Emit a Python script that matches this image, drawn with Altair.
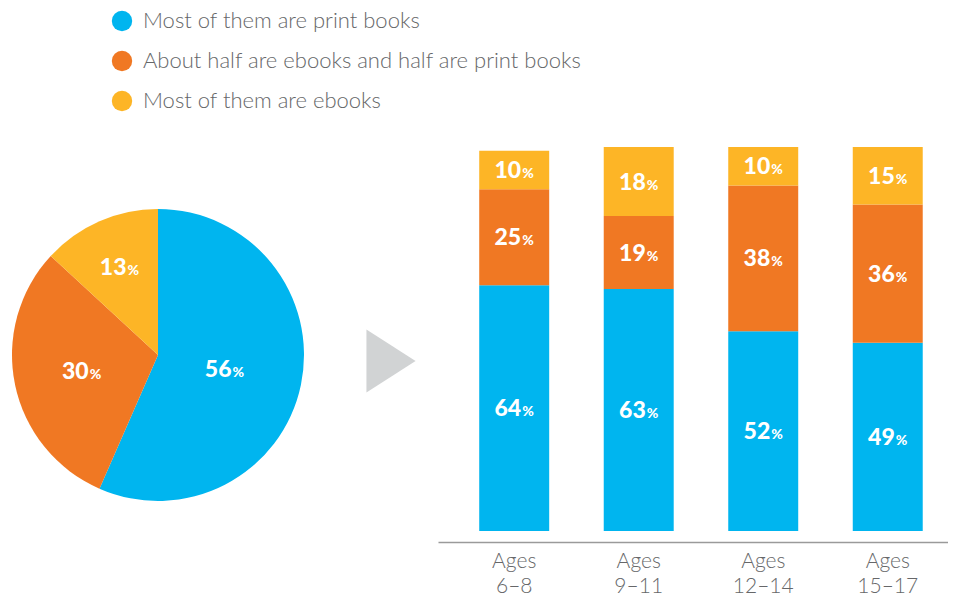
import altair as alt
import pandas as pd

# ---------------- data ----------------
categories = [
    "Most of them are print books",
    "About half are ebooks and half are print books",
    "Most of them are ebooks",
]
colors = ["#00B5EF", "#F07823", "#FDB526"]
overall = [56, 30, 13]

age_groups = ["Ages\n6–8", "Ages\n9–11", "Ages\n12–14", "Ages\n15–17"]
print_books = [64, 63, 52, 49]
half_half = [25, 19, 38, 36]
ebooks = [10, 18, 10, 15]

# ---------------- tables ----------------
pie_df = pd.DataFrame({"category": categories, "value": overall, "order": [0, 1, 2]})
pie_df["label"] = pie_df["value"].astype(str)

rows = []
for i, age in enumerate(age_groups):
    for j, (cat, vals) in enumerate(zip(categories, [print_books, half_half, ebooks])):
        rows.append({"age": age, "category": cat, "value": vals[i], "order": j})
bar_df = pd.DataFrame(rows)
bar_df["label"] = bar_df["value"].astype(str)

FONT = "Lato"
GREY_TXT = "#666769"

color = alt.Color(
    "category:N",
    scale=alt.Scale(domain=categories, range=colors),
    legend=alt.Legend(
        orient="none", legendX=103, legendY=2, direction="vertical", title=None,
        symbolType="circle", symbolSize=415, symbolStrokeWidth=0, symbolOpacity=1,
        labelFont=FONT, labelFontSize=22, labelFontWeight=300, labelColor=GREY_TXT,
        labelOffset=10, rowPadding=18, padding=0, labelLimit=700,
    ),
)

# ---------------- pie ----------------
CX, CY = 150, 347
pie_base = alt.Chart(pie_df)
arcs = pie_base.mark_arc(radius=146).encode(
    theta=alt.Theta("value:Q", stack=True),
    color=color,
    order=alt.Order("order:Q"),
    x=alt.value(CX), y=alt.value(CY),
)

lab_base = (
    pie_base.transform_joinaggregate(total="sum(value)")
    .transform_window(cum="sum(value)", sort=[alt.SortField("order")])
    .transform_calculate(ang="(datum.cum - datum.value/2) / datum.total * 2 * PI")
)
label_radius = {categories[0]: 68, categories[1]: 78, categories[2]: 96}
pie_layers = [arcs]
for cat, r in label_radius.items():
    b = lab_base.transform_filter(alt.datum.category == cat).encode(
        theta=alt.Theta("ang:Q", scale=None),
        radius=alt.value(r),
        x=alt.value(CX), y=alt.value(CY),
    )
    pie_layers.append(
        b.mark_text(font=FONT, fontSize=23, fontWeight=900, color="white",
                    align="right", baseline="alphabetic", dx=7, dy=8).encode(text="label:N")
    )
    pie_layers.append(
        b.mark_text(font=FONT, fontSize=14, fontWeight=900, color="white",
                    align="left", baseline="alphabetic", dx=8, dy=8).encode(text=alt.value("%"))
    )

arrow = alt.Chart(pd.DataFrame({"a": [0]})).mark_point(
    shape="M-0.78,-1L0.78,0L-0.78,1Z", size=3969, filled=True,
    color="#D1D3D4", opacity=1, strokeWidth=0,
).encode(x=alt.value(383), y=alt.value(353))
pie_layers.append(arrow)

pie = alt.layer(*pie_layers).properties(width=430, height=523)

# ---------------- bars ----------------
bar_base = (
    alt.Chart(bar_df)
    .transform_stack(stack="value", groupby=["age"], as_=["v0", "v1"],
                     sort=[alt.SortField("order", order="ascending")])
    .transform_calculate(mid="(datum.v0 + datum.v1) / 2")
)
x = alt.X(
    "age:N", sort=age_groups,
    scale=alt.Scale(paddingInner=0.438, paddingOuter=0.267, align=0.62),
    axis=alt.Axis(
        title=None, ticks=False, grid=False, domainColor="#9a9a9a", domainWidth=1.5,
        offset=11, labelExpr="split(datum.label, '\\n')", labelFont=FONT,
        labelFontSize=21, labelFontWeight=300, labelColor=GREY_TXT, labelAngle=0,
        labelLineHeight=25, labelPadding=8, labelBaseline="top",
    ),
)
yscale = alt.Scale(domain=[0, 136.2])
bars = bar_base.mark_bar().encode(
    x=x,
    y=alt.Y("v0:Q", scale=yscale, axis=None),
    y2="v1:Q",
    color=color,
)
num = bar_base.mark_text(font=FONT, fontSize=23, fontWeight=900, color="white",
                         align="right", baseline="alphabetic", dx=7, dy=8).encode(
    x=alt.X("age:N", sort=age_groups), y=alt.Y("mid:Q", scale=yscale), text="label:N")
pct = bar_base.mark_text(font=FONT, fontSize=14, fontWeight=900, color="white",
                         align="left", baseline="alphabetic", dx=8, dy=8).encode(
    x=alt.X("age:N", sort=age_groups), y=alt.Y("mid:Q", scale=yscale), text=alt.value("%"))

bar_chart = alt.layer(bars, num, pct).properties(width=510, height=523)

chart = (
    alt.hconcat(pie, bar_chart, spacing=0)
    .resolve_scale(color="shared")
    .properties(padding=0)
    .configure_view(stroke=None)
)

chart.save("out.html", embed_options={"renderer": "svg", "actions": False})
